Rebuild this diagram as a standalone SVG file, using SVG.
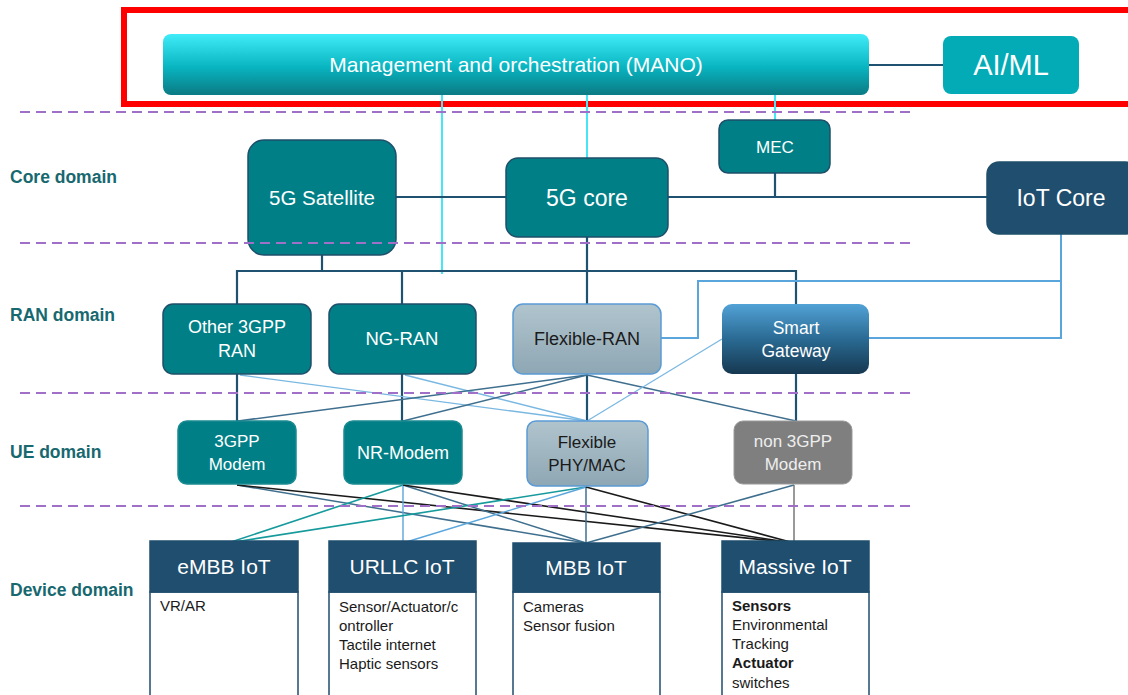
<svg xmlns="http://www.w3.org/2000/svg" width="1128" height="695" viewBox="0 0 1128 695">
  <defs>
    <linearGradient id="gMano" x1="0" y1="0" x2="0" y2="1">
      <stop offset="0" stop-color="#40ecf8"/>
      <stop offset="0.55" stop-color="#08b4c0"/>
      <stop offset="1" stop-color="#0b7a83"/>
    </linearGradient>
    <linearGradient id="gFlex" x1="0" y1="0" x2="0" y2="1">
      <stop offset="0" stop-color="#b0c4cd"/>
      <stop offset="1" stop-color="#8ea7b4"/>
    </linearGradient>
    <linearGradient id="gGw" x1="0" y1="0" x2="0" y2="1">
      <stop offset="0" stop-color="#52a2d6"/>
      <stop offset="0.5" stop-color="#2a6a93"/>
      <stop offset="1" stop-color="#163850"/>
    </linearGradient>
    <style>
      text { font-family: "Liberation Sans", Arial, sans-serif; }
      .teal { fill: #017f87; stroke: #1f4f6a; stroke-width: 1.5; }
      .flex { fill: url(#gFlex); stroke: #5b9bd5; stroke-width: 1.5; }
      .hdr { fill: #1f4e6e; stroke: #1f4e6e; stroke-width: 1.5; }
      .body { fill: #ffffff; stroke: #1f4e6e; stroke-width: 1.5; }
      .wt { fill: #ffffff; text-anchor: middle; }
      .bk { fill: #1a1a1a; text-anchor: middle; }
      .dom { fill: #17686f; font-weight: bold; font-size: 17.5px; }
      .item { fill: #1a1a1a; font-size: 15px; }
      .guide { stroke: #a070c8; stroke-width: 2; stroke-dasharray: 10 6; fill: none; }
      .dk { stroke: #1f5170; stroke-width: 2.2; fill: none; }
      .cy { stroke: #45e6f5; stroke-width: 2; fill: none; }
      .lb { stroke: #5aa6dc; stroke-width: 2; fill: none; }
      .lbt { stroke: #7ab8e2; stroke-width: 1.3; fill: none; }
      .st { stroke: #3f6f8e; stroke-width: 1.5; fill: none; }
      .tl { stroke: #169a9c; stroke-width: 1.6; fill: none; }
      .bl { stroke: #1a1a1a; stroke-width: 1.6; fill: none; }
      .gr { stroke: #777777; stroke-width: 1.5; fill: none; }
    </style>
  </defs>

  <rect width="1128" height="695" fill="#ffffff"/>

  <!-- highlight frame around the management layer -->
  <rect x="124" y="10" width="1010" height="94" fill="none" stroke="#ff0000" stroke-width="6"/>

  <!-- domain labels -->
  <g id="labels">
    <text class="dom" x="10" y="183">Core domain</text>
    <text class="dom" x="10" y="321">RAN domain</text>
    <text class="dom" x="10" y="458">UE domain</text>
    <text class="dom" x="10" y="596">Device domain</text>
  </g>

  <!-- connectors -->
  <g id="connectors">
    <!-- MANO to AI/ML -->
    <line class="dk" x1="869" y1="65" x2="943" y2="65"/>
    <!-- MANO drops -->
    <line class="cy" x1="442" y1="95" x2="442" y2="274"/>
    <line class="cy" x1="587" y1="95" x2="587" y2="158"/>
    <line class="cy" x1="775" y1="95" x2="775" y2="120"/>
    <!-- core ring -->
    <line class="dk" x1="396" y1="197" x2="506" y2="197"/>
    <line class="dk" x1="668" y1="197" x2="987" y2="197"/>
    <line class="dk" x1="775" y1="173" x2="775" y2="197"/>
    <!-- RAN bus -->
    <line class="dk" x1="322" y1="255" x2="322" y2="271"/>
    <polyline class="dk" points="237,304 237,271 796,271 796,304"/>
    <line class="dk" x1="402" y1="271" x2="402" y2="304"/>
    <line class="dk" x1="587" y1="237" x2="587" y2="304"/>
    <!-- IoT core links -->
    <polyline class="lb" points="661,338 698,338 698,281 1061,281"/>
    <polyline class="lb" points="869,338 1061,338 1061,234"/>
    <!-- RAN to UE -->
    <line class="dk" x1="237" y1="374" x2="237" y2="421"/>
    <line class="dk" x1="402" y1="374" x2="402" y2="421"/>
    <line class="dk" x1="587" y1="374" x2="587" y2="421"/>
    <line class="dk" x1="796" y1="374" x2="796" y2="421"/>
    <line class="lbt" x1="240" y1="375" x2="587" y2="421"/>
    <line class="lbt" x1="405" y1="375" x2="587" y2="421"/>
    <line class="st" x1="587" y1="375" x2="238" y2="421"/>
    <line class="st" x1="587" y1="375" x2="403" y2="421"/>
    <line class="st" x1="587" y1="375" x2="796" y2="421"/>
    <line class="lbt" x1="722" y1="339" x2="587" y2="421"/>
    <!-- UE to device -->
    <line class="st" x1="237" y1="485" x2="586" y2="543"/>
    <line class="bl" x1="237" y1="485" x2="794" y2="543"/>
    <line class="tl" x1="403" y1="485" x2="228" y2="543"/>
    <line class="lb" x1="403" y1="485" x2="403" y2="543" style="stroke-width:1.4"/>
    <line class="st" x1="403" y1="485" x2="586" y2="543"/>
    <line class="bl" x1="403" y1="485" x2="794" y2="543"/>
    <line class="tl" x1="586" y1="487" x2="228" y2="543"/>
    <line class="lb" x1="586" y1="487" x2="403" y2="543" style="stroke-width:1.4"/>
    <line class="st" x1="586" y1="487" x2="586" y2="543"/>
    <line class="bl" x1="586" y1="487" x2="794" y2="543"/>
    <line class="st" x1="794" y1="485" x2="586" y2="543"/>
    <line class="gr" x1="794" y1="485" x2="794" y2="543"/>
  </g>

  <!-- management layer -->
  <g id="mano">
    <rect x="163" y="34" width="706" height="61" rx="8" fill="url(#gMano)"/>
    <text class="wt" x="516" y="72" font-size="21">Management and orchestration (MANO)</text>
  </g>
  <g id="aiml">
    <rect x="943" y="36" width="136" height="58" rx="8" fill="#02abb6"/>
    <text class="wt" x="1011" y="75" font-size="29">AI/ML</text>
  </g>

  <!-- core domain -->
  <g id="sat5g">
    <rect class="teal" x="248" y="140" width="148" height="115" rx="16"/>
    <text class="wt" x="322" y="205" font-size="20.5">5G Satellite</text>
  </g>
  <g id="core5g">
    <rect class="teal" x="506" y="158" width="162" height="79" rx="12"/>
    <text class="wt" x="587" y="206" font-size="23">5G core</text>
  </g>
  <g id="mec">
    <rect class="teal" x="719" y="120" width="111" height="53" rx="9"/>
    <text class="wt" x="775" y="153" font-size="17">MEC</text>
  </g>
  <g id="iotcore">
    <rect x="987" y="162" width="150" height="72" rx="12" fill="#1f4e6e" stroke="#1f4f6a" stroke-width="1.5"/>
    <text class="wt" x="1061" y="206" font-size="23">IoT Core</text>
  </g>

  <!-- RAN domain -->
  <g id="other3gppran">
    <rect class="teal" x="163" y="304" width="148" height="70" rx="10"/>
    <text class="wt" x="237" y="333" font-size="18">Other 3GPP</text>
    <text class="wt" x="237" y="357" font-size="18">RAN</text>
  </g>
  <g id="ngran">
    <rect class="teal" x="329" y="304" width="147" height="70" rx="10"/>
    <text class="wt" x="402" y="345" font-size="18.5">NG-RAN</text>
  </g>
  <g id="flexran">
    <rect class="flex" x="513" y="304" width="148" height="70" rx="10"/>
    <text class="bk" x="587" y="345" font-size="18">Flexible-RAN</text>
  </g>
  <g id="smartgw">
    <rect x="722" y="304" width="147" height="70" rx="10" fill="url(#gGw)"/>
    <text class="wt" x="796" y="334" font-size="17.5">Smart</text>
    <text class="wt" x="796" y="357" font-size="17.5">Gateway</text>
  </g>

  <!-- UE domain -->
  <g id="modem3gpp">
    <rect class="teal" x="178" y="421" width="118" height="63" rx="9" style="stroke:#1a8a90"/>
    <text class="wt" x="237" y="447" font-size="17">3GPP</text>
    <text class="wt" x="237" y="470" font-size="17">Modem</text>
  </g>
  <g id="nrmodem">
    <rect class="teal" x="344" y="421" width="118" height="63" rx="9" style="stroke:#1a8a90"/>
    <text class="wt" x="403" y="459" font-size="18">NR-Modem</text>
  </g>
  <g id="flexphy">
    <rect class="flex" x="527" y="421" width="121" height="65" rx="9"/>
    <text class="bk" x="587" y="448" font-size="17">Flexible</text>
    <text class="bk" x="587" y="471" font-size="17">PHY/MAC</text>
  </g>
  <g id="non3gpp">
    <rect x="734" y="421" width="118" height="63" rx="9" fill="#7f7f7f" stroke="#9a9a9a" stroke-width="1"/>
    <text x="793" y="447" font-size="17" fill="#eeeeee" text-anchor="middle">non 3GPP</text>
    <text x="793" y="470" font-size="17" fill="#eeeeee" text-anchor="middle">Modem</text>
  </g>

  <!-- device domain -->
  <g id="embb">
    <rect class="body" x="150" y="592" width="148" height="110"/>
    <rect class="hdr" x="150" y="541" width="148" height="51"/>
    <text class="wt" x="224" y="574" font-size="21">eMBB IoT</text>
    <text class="item" x="160" y="611">VR/AR</text>
  </g>
  <g id="urllc">
    <rect class="body" x="329" y="592" width="147" height="110"/>
    <rect class="hdr" x="329" y="541" width="147" height="51"/>
    <text class="wt" x="402" y="574" font-size="21">URLLC IoT</text>
    <text class="item" x="339" y="612">Sensor/Actuator/c</text>
    <text class="item" x="339" y="631">ontroller</text>
    <text class="item" x="339" y="650">Tactile internet</text>
    <text class="item" x="339" y="669">Haptic sensors</text>
  </g>
  <g id="mbb">
    <rect class="body" x="513" y="592" width="147" height="110"/>
    <rect class="hdr" x="513" y="543" width="147" height="49"/>
    <text class="wt" x="586" y="575" font-size="21">MBB IoT</text>
    <text class="item" x="523" y="612">Cameras</text>
    <text class="item" x="523" y="631">Sensor fusion</text>
  </g>
  <g id="massive">
    <rect class="body" x="722" y="592" width="147" height="110"/>
    <rect class="hdr" x="722" y="541" width="147" height="51"/>
    <text class="wt" x="795" y="574" font-size="21">Massive IoT</text>
    <text class="item" x="732" y="611" font-weight="bold">Sensors</text>
    <text class="item" x="732" y="630">Environmental</text>
    <text class="item" x="732" y="649">Tracking</text>
    <text class="item" x="732" y="668" font-weight="bold">Actuator</text>
    <text class="item" x="732" y="688">switches</text>
  </g>

  <!-- domain separators -->
  <g id="separators">
    <line class="guide" x1="20" y1="112" x2="910" y2="112"/>
    <line class="guide" x1="20" y1="243" x2="910" y2="243"/>
    <line class="guide" x1="20" y1="393" x2="910" y2="393"/>
    <line class="guide" x1="20" y1="506" x2="910" y2="506"/>
  </g>
</svg>
